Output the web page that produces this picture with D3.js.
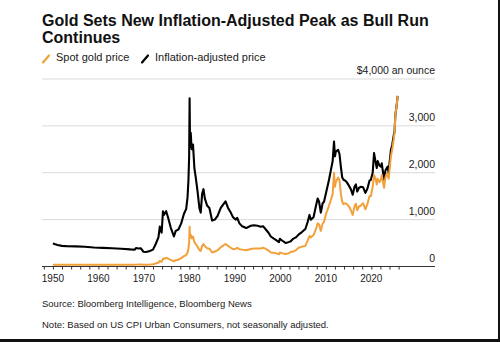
<!DOCTYPE html>
<html>
<head>
<meta charset="utf-8">
<script src="https://cdn.jsdelivr.net/npm/d3@7"></script>
<style>
  body { margin: 0; background: #fff; }
  svg { display: block; font-family: "Liberation Sans", Arial, sans-serif; }
</style>
</head>
<body>
<div id="chart"></div>
<script>
// sample dates (decimal years)
const dates = [
  1950, 1951, 1952, 1953, 1955, 1957, 1959, 1961, 1963, 1965, 1967, 1968,
  1968.3, 1968.8, 1969.3, 1969.9, 1970.5, 1971.3, 1972, 1972.6, 1973.2, 1973.5,
  1973.9, 1974.2, 1974.4, 1974.9, 1975.3, 1975.9, 1976.6, 1977, 1977.6, 1978.2,
  1978.8, 1979.3, 1979.6, 1979.8, 1979.95, 1980.05, 1980.15, 1980.3, 1980.5, 1980.8,
  1981.1, 1981.4, 1981.8, 1982.2, 1982.5, 1982.8, 1983.1, 1983.4, 1983.9, 1984.4,
  1985, 1985.6, 1986.2, 1986.9, 1987.5, 1987.95, 1988.5, 1989.1, 1989.6, 1990.2,
  1990.5, 1991, 1991.6, 1992.5, 1993.5, 1994.2, 1995, 1995.7, 1996.2, 1996.8,
  1997.4, 1997.9, 1998.5, 1999, 1999.7, 1999.9, 2000.3, 2001.2, 2001.8, 2002.3,
  2002.8, 2003.4, 2004, 2004.8, 2005.5, 2006, 2006.4, 2006.7, 2007.3, 2007.8,
  2008.2, 2008.5, 2008.9, 2009.3, 2009.6, 2010, 2010.7, 2011.1, 2011.5, 2011.8,
  2012, 2012.2, 2012.7, 2013, 2013.3, 2013.6, 2013.9, 2014.3, 2014.6, 2015.1,
  2015.5, 2015.9, 2016.3, 2016.6, 2016.9, 2017.3, 2017.7, 2018.2, 2018.7, 2019.1,
  2019.6, 2019.9, 2020.3, 2020.6, 2020.9, 2021.2, 2021.4, 2021.8, 2022.1, 2022.3,
  2022.8, 2023.1, 2023.4, 2023.6, 2023.8, 2024, 2024.3, 2024.6, 2024.9, 2025.1,
  2025.3, 2025.5, 2025.8
];

// spot gold price, $/oz
const spot = [
  35, 35, 35, 35, 35, 35, 35, 35, 35, 35, 35, 35,
  40, 41, 43, 35, 36, 40, 46, 65, 85, 120,
  100, 170, 160, 185, 170, 140, 110, 135, 145, 180,
  220, 245, 300, 390, 500, 850, 620, 680, 600, 640,
  520, 480, 420, 350, 330, 440, 480, 430, 390, 380,
  300, 320, 345, 410, 450, 480, 440, 400, 370, 380,
  400, 370, 360, 345, 375, 385, 385, 385, 400, 375,
  340, 300, 295, 285, 260, 300, 285, 265, 280, 310,
  320, 345, 400, 425, 440, 550, 650, 620, 670, 790,
  920, 900, 760, 920, 950, 1110, 1300, 1420, 1550, 2000,
  1700, 1800, 1900, 1830, 1560, 1380, 1330, 1350, 1330, 1280,
  1200, 1100, 1280, 1340, 1200, 1280, 1300, 1350, 1220, 1320,
  1500, 1500, 1700, 1950, 1880, 1750, 1870, 1800, 1850, 1950,
  1680, 1900, 1980, 1950, 1870, 2050, 2350, 2500, 2700, 2850,
  3250, 3380, 3640
];

// inflation-adjusted price, $/oz
const real = [
  490, 460, 440, 435, 430, 420, 405, 398, 390, 380, 365, 360,
  395, 385, 390, 315, 310, 330, 360, 480, 620, 850,
  720, 1180, 1100, 1180, 1050, 830, 640, 760, 790, 920,
  1120, 1230, 1480, 1850, 2350, 3590, 2550, 2850, 2500, 2600,
  2100, 1900, 1600, 1250, 1150, 1550, 1650, 1450, 1300, 1250,
  980, 1000, 1080, 1250, 1330, 1390, 1250, 1150, 1050, 1000,
  1040, 920, 860, 820, 870, 880, 870, 850, 860, 790,
  720, 640, 600, 570, 520, 590, 560, 500, 520, 540,
  590, 620, 680, 740, 800, 950, 1100, 1000, 1050, 1280,
  1450, 1390, 1150, 1350, 1380, 1550, 1850, 2050, 2250, 2665,
  2350, 2450, 2490, 2400, 2130, 1900, 1850, 1830, 1800, 1720,
  1650, 1530, 1700, 1750, 1600, 1680, 1700, 1690, 1570, 1650,
  1830, 1850, 2000, 2420, 2250, 2100, 2250, 2150, 2130, 2200,
  1850, 2050, 2100, 2130, 2000, 2200, 2480, 2600, 2780, 2880,
  3250, 3380, 3640
];

const yTicks = [0, 1000, 2000, 3000, 4000];
const xLabels = [1950, 1960, 1970, 1980, 1990, 2000, 2010, 2020];
const xMinor = d3.range(1948, 2027, 2);

const width = 500, height = 342;
const plot = { left: 42, right: 435, top: 79, bottom: 266.5 };

const svg = d3.select("#chart").append("svg")
  .attr("width", width)
  .attr("height", height);

const x = d3.scaleLinear()
  .domain([1947.6, 2034])
  .range([plot.left, plot.right]);

const y = d3.scaleLinear()
  .domain([0, 4000])
  .range([plot.bottom, plot.top]);

// title
const title = svg.append("text")
  .attr("font-weight", "bold")
  .attr("font-size", 16)
  .attr("fill", "#111");
title.append("tspan").attr("x", 42).attr("y", 26).text("Gold Sets New Inflation-Adjusted Peak as Bull Run");
title.append("tspan").attr("x", 42).attr("y", 43).text("Continues");

// legend
const legend = [
  { label: "Spot gold price", color: "#f2a13a", x: 42 },
  { label: "Inflation-adjusted price", color: "#000", x: 141 }
];
const lg = svg.append("g").selectAll("g").data(legend).join("g")
  .attr("transform", d => `translate(${d.x},0)`);
lg.append("line")
  .attr("x1", 1).attr("y1", 62.5).attr("x2", 7).attr("y2", 55.5)
  .attr("stroke", d => d.color).attr("stroke-width", 2.2).attr("stroke-linecap", "round");
lg.append("text")
  .attr("x", 14).attr("y", 61)
  .attr("font-size", 11).attr("fill", "#1a1a1a")
  .text(d => d.label);

// gridlines
svg.append("g").selectAll("line").data(yTicks.filter(d => d > 0)).join("line")
  .attr("x1", plot.left).attr("x2", plot.right)
  .attr("y1", d => y(d)).attr("y2", d => y(d))
  .attr("stroke", "#d9d9d9").attr("stroke-width", 1);

// y labels
svg.append("g").selectAll("text").data(yTicks).join("text")
  .attr("x", plot.right).attr("y", d => y(d) - 5)
  .attr("text-anchor", "end")
  .attr("font-size", 10.5).attr("fill", "#1a1a1a")
  .text(d => d === 4000 ? "$4,000 an ounce" : d3.format(",")(d));

// lines
const pts = dates.map((d, i) => ({ t: d, s: spot[i], r: real[i] }));
const line = key => d3.line().x(d => x(d.t)).y(d => y(d[key]));

svg.append("path").datum(pts)
  .attr("d", line("r"))
  .attr("fill", "none").attr("stroke", "#000").attr("stroke-width", 2.1)
  .attr("stroke-linejoin", "round");

svg.append("path").datum(pts)
  .attr("d", line("s"))
  .attr("fill", "none").attr("stroke", "#f2a13a").attr("stroke-width", 2)
  .attr("stroke-linejoin", "round");

// x axis
const gx = svg.append("g")
  .attr("transform", `translate(0,${plot.bottom})`)
  .call(d3.axisBottom(x).tickValues(xMinor).tickSize(3).tickFormat(""));
gx.select(".domain").remove();
gx.selectAll(".tick line").attr("stroke", "#333");
gx.append("line")
  .attr("x1", plot.left).attr("x2", plot.right)
  .attr("stroke", "#333").attr("stroke-width", 1);

svg.append("g").selectAll("text").data(xLabels).join("text")
  .attr("x", d => x(d)).attr("y", plot.bottom + 15.5)
  .attr("text-anchor", "middle")
  .attr("font-size", 10).attr("fill", "#1a1a1a")
  .text(d => d);

// footer
svg.append("text").attr("x", 42).attr("y", 307)
  .attr("font-size", 9.5).attr("fill", "#1a1a1a")
  .text("Source: Bloomberg Intelligence, Bloomberg News");
svg.append("text").attr("x", 42).attr("y", 328)
  .attr("font-size", 9.5).attr("fill", "#1a1a1a")
  .text("Note: Based on US CPI Urban Consumers, not seasonally adjusted.");

// frame edges
svg.append("rect").attr("x", 498).attr("y", 0).attr("width", 2).attr("height", height).attr("fill", "#111");
svg.append("rect").attr("x", 0).attr("y", 339).attr("width", width).attr("height", 3).attr("fill", "#111");
</script>
</body>
</html>
